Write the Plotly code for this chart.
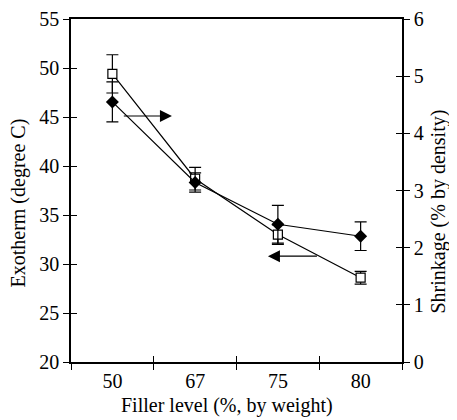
import plotly.graph_objects as go

categories = ["50", "67", "75", "80"]
exotherm = [49.4, 38.7, 33.0, 28.6]
exotherm_err = [1.95, 1.15, 1.0, 0.65]
shrinkage = [4.55, 3.14, 2.41, 2.20]
shrinkage_err = [0.35, 0.17, 0.33, 0.25]

x_title = "Filler level (%, by weight)"
y_left_title = "Exotherm (degree C)"
y_right_title = "Shrinkage (% by density)"

# arrows (in left-axis units): tail x, head x, y
arrow_tail_x = [0.12, 2.49]
arrow_head_x = [0.72, 1.88]
arrow_y = [45.1, 30.8]

xpos = list(range(len(categories)))
bounds = [i - 0.5 for i in range(len(categories) + 1)]
FONT = "Liberation Serif"

fig = go.Figure()
fig.add_trace(go.Scatter(
    x=xpos, y=exotherm, mode="lines+markers", xaxis="x", yaxis="y",
    line=dict(color="black", width=1.2),
    marker=dict(symbol="square", size=9, color="white", line=dict(color="black", width=1.2)),
    error_y=dict(type="data", array=exotherm_err, color="black", thickness=1.2, width=6),
    showlegend=False))
fig.add_trace(go.Scatter(
    x=xpos, y=shrinkage, mode="lines+markers", xaxis="x", yaxis="y2",
    line=dict(color="black", width=1.2),
    marker=dict(symbol="diamond", size=10, color="black"),
    error_y=dict(type="data", array=shrinkage_err, color="black", thickness=1.2, width=6),
    showlegend=False))
# empty traces so the inner-tick axes are drawn
fig.add_trace(go.Scatter(x=[], y=[], xaxis="x2", yaxis="y3", showlegend=False))
fig.add_trace(go.Scatter(x=[], y=[], xaxis="x2", yaxis="y4", showlegend=False))

for tx, hx, yy in zip(arrow_tail_x, arrow_head_x, arrow_y):
    fig.add_annotation(x=hx, y=yy, ax=tx, ay=yy, xref="x", yref="y", axref="x", ayref="y",
                       text="", showarrow=True, arrowhead=2, arrowsize=2, arrowwidth=1.2,
                       arrowcolor="black", standoff=0, startstandoff=0)

tf = dict(family=FONT, size=20, color="black")

# axis titles as text annotations
fig.add_annotation(text=x_title, xref="paper", yref="paper", x=0.5, y=0,
                   xanchor="center", yanchor="middle", xshift=-10, yshift=-43,
                   showarrow=False, font=tf)
fig.add_annotation(text=y_left_title, xref="paper", yref="paper", x=0, y=0.5,
                   xanchor="center", yanchor="middle", xshift=-53, yshift=-13,
                   textangle=-90, showarrow=False, font=tf)
fig.add_annotation(text=y_right_title, xref="paper", yref="paper", x=1, y=0.5,
                   xanchor="center", yanchor="middle", xshift=36, yshift=-21,
                   textangle=-90, showarrow=False, font=tf)

fig.update_layout(
    width=449, height=412,
    margin=dict(l=63, r=55, t=11, b=58, autoexpand=False),
    plot_bgcolor="white", paper_bgcolor="white",
    font=tf,
    xaxis=dict(range=[-0.5, 3.5], tickvals=xpos, ticktext=categories, ticks="",
               showline=True, linecolor="black", linewidth=1.5, mirror=True,
               showgrid=False, zeroline=False, tickfont=tf, automargin=False,
               minor=dict(tickmode="array", tickvals=bounds, ticks="outside", ticklen=6,
                          tickcolor="black", tickwidth=1.2, showgrid=False)),
    xaxis2=dict(range=[-0.5, 3.5], overlaying="x", side="bottom", tickvals=bounds,
                ticks="inside", ticklen=6, tickcolor="black", tickwidth=1.2, automargin=False,
                showticklabels=False, showline=False, showgrid=False, zeroline=False),
    yaxis=dict(range=[20, 55], dtick=5, ticks="outside", ticklen=6, tickcolor="black",
               tickwidth=1.2, showline=True, linecolor="black", linewidth=1.5,
               showgrid=False, zeroline=False, tickfont=tf, automargin=False),
    yaxis3=dict(range=[20, 55], dtick=5, overlaying="y", side="left", ticks="inside",
                ticklen=6, tickcolor="black", tickwidth=1.2, showticklabels=False,
                showline=False, showgrid=False, zeroline=False, automargin=False),
    yaxis2=dict(range=[0, 6], dtick=1, overlaying="y", side="right", ticks="outside",
                ticklen=6, tickcolor="black", tickwidth=1.2, showline=True,
                linecolor="black", linewidth=1.5, showgrid=False, zeroline=False,
                tickfont=tf, automargin=False),
    yaxis4=dict(range=[0, 6], dtick=1, overlaying="y", side="right", ticks="inside",
                ticklen=6, tickcolor="black", tickwidth=1.2, showticklabels=False,
                showline=False, showgrid=False, zeroline=False, automargin=False),
)

fig.write_html("out.html")
